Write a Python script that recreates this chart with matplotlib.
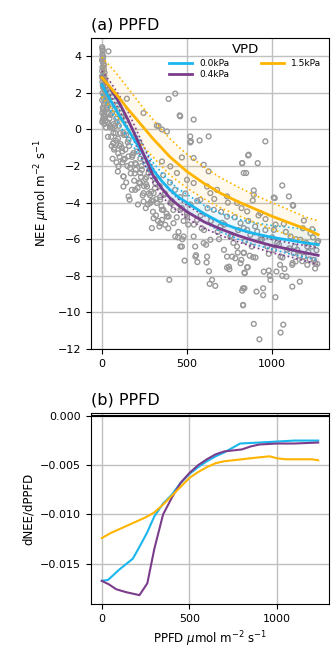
import numpy as np
import matplotlib
matplotlib.use('Agg')
import matplotlib.pyplot as plt

obs_x = [2, 5, 3, 8, 1, 6, 10, 4, 12, 2, 9, 15, 5, 18, 3, 11, 22, 7, 14, 26, 4, 19, 30, 9, 2, 24, 13, 35, 6, 28,
         17, 3, 40, 10, 22, 45, 5, 33, 15, 50, 25, 8, 38, 45, 55, 60, 65, 70, 75, 80, 85, 90, 95, 100, 110, 115,
         120, 130, 135, 140, 150, 160, 170, 180, 190, 200, 210, 220, 230, 240, 250, 260, 270, 280, 290, 300,
         310, 320, 330, 340, 350, 360, 370, 380, 390, 400, 410, 420, 430, 440, 450, 460, 470, 480, 490, 500,
         520, 540, 560, 580, 600, 620, 640, 660, 680, 700, 720, 740, 760, 780, 800, 820, 840, 860, 880, 900,
         920, 940, 960, 980, 1000, 1020, 1040, 1060, 1080, 1100, 1120, 1140, 1160, 1180, 1200, 1220, 1240,
         1260, 1270, 1250,
         39, 147, 323, 392, 333, 353, 118, 78, 245, 460, 539, 627, 519, 519, 960, 824, 862, 915, 847, 1009,
         1059, 1098, 98, 127, 157, 68, 157, 431, 457, 523, 574, 859, 382, 470, 539, 892, 892, 886, 1015, 1121,
         486, 396, 553, 561, 615, 629, 647, 633, 666, 717, 765, 784, 798, 833, 819, 814, 735, 749, 839, 857,
         829, 824, 829, 1123, 1068, 1186, 1235, 833, 888, 853, 837, 951, 980, 990, 986, 1025, 1059, 1084, 1072,
         1118, 1137, 1162, 1118, 1019, 837, 908, 947, 947, 829, 892, 1065, 1049, 925, 853, 931, 961, 1010,
         1108, 1166, 1206, 1225, 1265, 1010, 1088, 1127, 1186, 1049, 931, 872, 833, 912, 971, 1245, 1265,
         1206, 1147, 1029, 353, 402, 441, 500, 539, 618, 637, 676, 735, 794, 833, 824, 627, 598, 362, 382,
         421, 431, 480, 539, 461, 598, 637, 696, 755, 794, 559, 500, 461, 402, 343, 366, 578, 657, 735, 814,
         853, 549, 618, 735, 470, 68, 127, 68, 118, 127, 157, 186, 196, 225, 127, 225, 127, 196, 245, 265,
         304, 284, 323, 163, 245, 353, 304, 353, 294, 343, 372, 392, 235, 274, 314,
         4, 7, 12, 16, 20, 1, 6, 11, 27, 32, 3, 14, 20, 42, 8, 36, 48, 58, 52, 63, 72, 86, 94, 104, 143, 176,
         212, 258, 292, 318, 338, 412, 447, 472, 507, 548, 586, 612, 688, 706, 746, 772, 868, 902, 1046,
         1132, 1176, 1212, 1252, 1232,
         55, 62, 74, 83, 96, 108, 122, 138, 152, 166, 178, 193, 206, 218, 233, 248, 262, 276, 288, 302,
         88, 105, 142, 171, 199, 226, 255, 283, 312, 341]
obs_y = [4.5, 4.3, 4.1, 4.0, 3.8, 3.7, 3.6, 3.4, 3.3, 3.2, 3.0, 2.9, 2.8, 2.7, 2.6, 2.5, 2.4, 2.3, 2.2, 2.1,
         2.0, 1.9, 1.8, 1.7, 1.6, 1.5, 1.4, 1.3, 1.2, 1.1, 1.0, 0.9, 0.9, 0.8, 0.7, 0.6, 0.5, 0.4, 0.3, 0.2,
         0.1, 0.6, 1.6, 2.0, 1.4, 0.9, 1.8, 0.3, 1.1, -0.2, 0.6, 1.3, -0.5, 0.2, -0.8, 0.9, -1.2, -0.3, -1.6,
         0.5, -2.0, -0.9, -2.4, -1.4, -2.8, -1.9, -3.2, -0.7, -2.6, -3.6, -1.7, -3.0, -4.1, -2.2, -3.4, -4.5,
         -2.7, -3.8, -5.0, -3.1, -4.2, -2.5, -3.5, -4.6, -5.4, -2.9, -3.9, -4.4, -3.3, -4.8, -5.6, -3.7, -4.3,
         -5.0, -3.5, -4.6, -4.1, -5.2, -3.9, -4.7, -5.5, -4.3, -5.0, -3.8, -5.6, -4.5, -5.2, -4.0, -5.8, -4.8,
         -5.5, -4.3, -6.1, -5.0, -6.4, -5.3, -4.7, -6.0, -5.5, -6.8, -5.9, -5.2, -6.3, -7.0, -5.6, -6.5, -7.3,
         -6.0, -6.9, -5.4, -6.2, -7.1, -5.9, -6.6, -6.1, -7.3,
         4.27, 1.68, 0.21, 1.67, 0.19, 0.0, 0.64, 0.19, 0.90, 0.72, 0.54, -0.38, -0.38, -0.71, -0.65, -1.84,
         -1.38, -1.84, -2.38, -3.72, -3.06, -3.66, -2.02, -2.57, -3.66, -0.74, -0.56, 1.96, 0.77, -0.65, -0.60,
         -1.42, -0.11, -1.53, -1.56, -3.33, -3.57, -3.88, -3.75, -4.13, -7.17, -8.22, -6.87, -7.25, -7.27,
         -7.75, -8.22, -8.44, -8.55, -6.58, -6.95, -7.04, -6.73, -6.73, -7.13, -7.31, -7.55, -7.64, -7.86,
         -7.53, -8.68, -8.81, -9.59, -4.17, -5.16, -4.98, -5.45, -6.76, -6.98, -7.53, -7.82, -7.77, -7.71,
         -8.22, -8.00, -7.77, -8.00, -8.04, -7.62, -7.40, -7.22, -8.32, -8.59, -9.17, -8.68, -8.86, -8.68,
         -9.06, -9.61, -10.63, -10.67, -11.1, -11.47, -4.48, -4.57, -4.9, -5.49, -5.85, -6.03, -6.4, -5.67,
         -6.18, -6.58, -6.58, -6.76, -6.95, -6.95, -6.03, -5.76, -5.39, -5.58, -6.4, -7.13, -7.35, -7.40,
         -6.58, -6.21, -1.75, -2.02, -2.38, -2.75, -2.93, -3.12, -3.48, -3.3, -3.66, -4.02, -2.38, -1.84,
         -2.29, -1.93, -4.39, -4.76, -5.12, -5.85, -5.85, -5.85, -6.4, -6.21, -6.03, -5.3, -5.85, -6.4, -4.94,
         -4.76, -4.39, -4.02, -3.84, -3.57, -3.84, -4.39, -4.76, -5.12, -5.49, -6.95, -6.95, -6.95, -6.4,
         -0.19, -0.19, -0.74, -1.01, -1.65, -1.47, -1.29, -1.84, -2.38, -2.57, -2.93, -3.12, -3.30, -3.48,
         -3.12, -3.48, -4.02, -4.02, -3.84, -3.94, -4.39, -4.85, -4.94, -5.39, -5.12, -5.21, -4.76, -2.2,
         -2.38, -2.93,
         4.4, 3.9, 3.5, 3.1, 2.6, 2.9, 2.4, 1.9, 1.6, 1.2, 0.4, 0.7, 0.45, 0.3, 1.1, -0.4, 0.1, -0.9, 0.8,
         -1.6, -1.1, -1.8, -2.3, -1.5, -2.9, -3.3, -4.1, -4.3, -3.9, -4.7, -5.3, -4.0, -5.9, -6.0, -5.2, -6.4,
         -5.4, -6.3, -6.0, -5.1, -7.5, -6.2, -6.9, -7.0, -7.4, -6.4, -7.2, -6.7, -7.6, -6.4,
         -0.4, 0.1, -1.0, -0.6, -1.3, -0.2, -1.8, -1.1, -0.7, -2.1, -1.5, -2.4, -1.2, -2.9, -2.0, -3.1, -2.6,
         -3.5, -2.2, -3.9, 0.4, -0.9, -0.3, -1.9, -2.2, -1.6, -2.7, -3.6, -3.2, -3.7]

# fitted response curves per VPD class
fit_x = [0, 50, 100, 150, 200, 250, 300, 350, 400, 450, 500, 600, 700, 800, 900, 1000, 1100, 1200, 1270]
nee_vpd0 = [2.45, 1.6, 0.8, 0.05, -0.7, -1.45, -2.2, -2.8, -3.3, -3.7, -4.0, -4.6, -5.1, -5.45, -5.7, -5.9, -6.05, -6.2, -6.3]
nee_vpd0_hi = [3.0, 2.15, 1.3, 0.55, -0.25, -1.0, -1.8, -2.35, -2.85, -3.25, -3.55, -4.15, -4.6, -4.9, -5.1, -5.25, -5.35, -5.45, -5.5]
nee_vpd0_lo = [1.9, 1.05, 0.3, -0.45, -1.15, -1.9, -2.6, -3.25, -3.75, -4.15, -4.45, -5.05, -5.6, -6.0, -6.3, -6.55, -6.8, -7.0, -7.15]
nee_vpd04 = [2.87, 2.25, 1.5, 0.6, -0.4, -1.45, -2.5, -3.2, -3.75, -4.15, -4.5, -5.05, -5.45, -5.8, -6.1, -6.35, -6.55, -6.75, -6.88]
nee_vpd04_hi = [3.2, 2.6, 1.9, 1.05, 0.05, -1.0, -2.1, -2.8, -3.35, -3.8, -4.15, -4.7, -5.1, -5.45, -5.75, -6.0, -6.2, -6.35, -6.45]
nee_vpd04_lo = [2.5, 1.85, 1.1, 0.15, -0.85, -1.9, -2.9, -3.6, -4.15, -4.5, -4.85, -5.4, -5.8, -6.15, -6.45, -6.75, -6.95, -7.2, -7.4]
nee_vpd15 = [2.85, 2.3, 1.75, 1.15, 0.6, 0.05, -0.5, -1.0, -1.5, -1.9, -2.3, -2.95, -3.5, -3.95, -4.35, -4.75, -5.1, -5.45, -5.75]
nee_vpd15_hi = [3.95, 3.45, 2.9, 2.3, 1.7, 1.1, 0.55, 0.0, -0.5, -0.95, -1.35, -2.05, -2.65, -3.15, -3.6, -4.0, -4.4, -4.8, -5.0]
nee_vpd15_lo = [1.8, 1.2, 0.6, 0.05, -0.5, -1.0, -1.5, -2.0, -2.5, -2.85, -3.2, -3.8, -4.3, -4.7, -5.1, -5.45, -5.8, -6.15, -6.4]

# derivative dNEE/dPPFD
d_x0 = [0, 36, 100, 177, 215, 260, 300, 350, 400, 450, 500, 550, 600, 650, 700, 750, 790, 900, 1000, 1100, 1236]
d_vpd0 = [-0.01675, -0.01665, -0.0156, -0.0145, -0.0133, -0.0118, -0.0102, -0.0089, -0.0080, -0.0068, -0.0059,
          -0.0052, -0.0046, -0.0041, -0.0037, -0.0032, -0.0028, -0.0027, -0.0026, -0.0025, -0.0025]
d_x04 = [0, 40, 82, 139, 215, 260, 300, 350, 400, 450, 500, 550, 600, 650, 700, 800, 850, 900, 1000, 1100, 1236]
d_vpd04 = [-0.01675, -0.0171, -0.0176, -0.0179, -0.0182, -0.0170, -0.0135, -0.0100, -0.0083, -0.0068, -0.0058,
           -0.0050, -0.0044, -0.0039, -0.0036, -0.0034, -0.0031, -0.0029, -0.0028, -0.0028, -0.0027]
d_x15 = [0, 50, 100, 150, 200, 250, 300, 350, 400, 450, 500, 550, 600, 650, 700, 800, 900, 960, 1000, 1050, 1100, 1150, 1200, 1236]
d_vpd15 = [-0.0124, -0.0119, -0.0115, -0.0111, -0.0107, -0.0103, -0.0098, -0.0090, -0.0081, -0.0072, -0.0063,
           -0.0057, -0.0052, -0.0048, -0.0046, -0.0044, -0.0042, -0.0041, -0.0043, -0.0044, -0.0044, -0.0044,
           -0.0044, -0.0045]

c0 = '#1ab6ee'
c04 = '#7b3d8b'
c15 = '#ffb400'

fig = plt.figure(figsize=(3.36, 6.53), dpi=100)
ax1 = fig.add_axes([91/336, 1-349/653, 238/336, 311/653])
ax2 = fig.add_axes([91/336, 1-604/653, 238/336, 191/653])

for ax in (ax1, ax2):
    ax.grid(True, color='#c0c0c0', lw=1.0)
    ax.set_axisbelow(True)
    ax.tick_params(labelsize=8)

ax1.scatter(obs_x, obs_y, s=12, facecolors='none', edgecolors='#999999', lw=1.0, zorder=2)
for yy, lo, hi, c, lab in [(nee_vpd0, nee_vpd0_lo, nee_vpd0_hi, c0, '0.0kPa'),
                           (nee_vpd04, nee_vpd04_lo, nee_vpd04_hi, c04, '0.4kPa'),
                           (nee_vpd15, nee_vpd15_lo, nee_vpd15_hi, c15, '1.5kPa')]:
    ax1.fill_between(fit_x, lo, hi, color=c, alpha=0.07, lw=0, zorder=3)
    ax1.plot(fit_x, lo, ls=':', color=c, lw=1.2, zorder=3)
    ax1.plot(fit_x, hi, ls=':', color=c, lw=1.2, zorder=3)
    ax1.plot(fit_x, yy, color=c, lw=2, label=lab, zorder=4)

ax1.set_ylim(-12, 5)
ax1.set_yticks(np.arange(-12, 5, 2))
ax1.set_xticks([0, 500, 1000])
ax1.set_ylabel(r'NEE $\mu$mol m$^{-2}$ s$^{-1}$', fontsize=8.5)
ax1.set_title('(a) PPFD', loc='left', fontsize=11.5)
leg = ax1.legend(title='VPD', ncol=2, frameon=False, fontsize=6.5, title_fontsize=9.5,
                 loc='upper right', bbox_to_anchor=(1.0, 1.01), handlelength=2.5,
                 columnspacing=3.5, labelspacing=0.3)

ax2.axhline(0, color='black', lw=1.5)
ax2.plot(d_x0, d_vpd0, color=c0, lw=1.5)
ax2.plot(d_x04, d_vpd04, color=c04, lw=1.5)
ax2.plot(d_x15, d_vpd15, color=c15, lw=1.5)
ax2.set_ylim(-0.0191, 0.0003)
ax2.set_xticks([0, 500, 1000])
ax2.set_yticks([0, -0.005, -0.010, -0.015])
ax2.set_yticklabels(['0.000', '\u22120.005', '\u22120.010', '\u22120.015'])
ax2.set_ylabel('dNEE/dPPFD', fontsize=8.5)
ax2.set_xlabel(r'PPFD $\mu$mol m$^{-2}$ s$^{-1}$', fontsize=8.5)
ax2.set_title('(b) PPFD', loc='left', fontsize=11.5)

fig.savefig('out.png', dpi=100)
